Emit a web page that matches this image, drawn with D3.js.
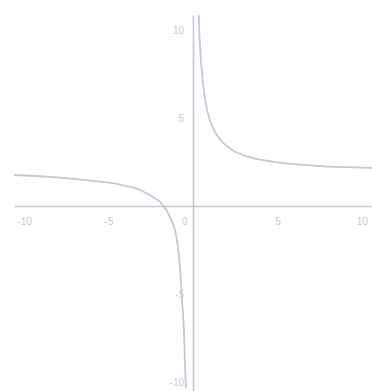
<!DOCTYPE html>
<html>
<head>
<meta charset="utf-8">
<script src="https://cdn.jsdelivr.net/npm/d3@7/dist/d3.min.js"></script>
<style>
  html, body { margin: 0; padding: 0; background: #ffffff; }
  svg { display: block; }
</style>
</head>
<body>
<script>
// Right-hand branch (x > 0), read point by point
const rightX = [0.33, 0.36, 0.40, 0.45, 0.50, 0.60, 0.70, 0.85, 1.0, 1.2, 1.5, 2.0, 2.5, 3.0, 4.0, 5.0, 6.0, 7.5, 9.0, 10.6];
const rightY = [10.97, 10.2, 9.4, 8.5, 7.9, 6.9, 6.2, 5.4, 4.9, 4.4, 3.9, 3.4, 3.08, 2.88, 2.63, 2.48, 2.38, 2.27, 2.21, 2.16];

// Left-hand branch (x < 0)
const leftX = [-10.6, -8.47, -6.51, -4.50, -3.14, -2.37, -1.78, -1.36, -0.95, -0.77, -0.65, -0.53, -0.47, -0.41];
const leftY = [1.76, 1.65, 1.48, 1.25, 0.91, 0.51, 0.06, -0.63, -1.93, -3.47, -5.34, -7.22, -9.15, -10.34];

const xTicks = [-10, -5, 0, 5, 10];
const yTicks = [10, 5, -5, -10];

const W = 372, H = 391;
const ink = "#c4c8d4";

const svg = d3.select("body").append("svg")
  .attr("width", W).attr("height", H);

const x = d3.scaleLinear().domain([-10.6, 10.6]).range([14, 372]);
const y = d3.scaleLinear().domain([-10.51, 10.85]).range([391, 15]);

svg.append("defs").append("clipPath").attr("id", "plot")
  .append("rect").attr("x", 14).attr("y", 15).attr("width", 358).attr("height", 376);

// Axes through the origin
const xAxis = svg.append("g")
  .attr("transform", `translate(0,${y(0)})`)
  .call(d3.axisBottom(x).tickValues(xTicks).tickSize(0).tickSizeOuter(0).tickPadding(12)
    .tickFormat(d => d));
const yAxis = svg.append("g")
  .attr("transform", `translate(${x(0)},0)`)
  .call(d3.axisLeft(y).tickValues(yTicks).tickSize(0).tickSizeOuter(0).tickPadding(9)
    .tickFormat(d => d));

[xAxis, yAxis].forEach(g => {
  g.select(".domain").attr("stroke", ink).attr("stroke-width", 1.6);
  g.selectAll("text")
    .attr("fill", "#c6cad4")
    .style("font-family", "'Liberation Sans', Arial, sans-serif")
    .style("font-size", "10px");
});
// origin label sits to the left of the vertical axis
xAxis.selectAll(".tick").filter(d => d === 0).select("text").attr("dx", -9);

const line = d3.line()
  .x(d => x(d[0]))
  .y(d => y(d[1]))
  .curve(d3.curveMonotoneX);

const plot = svg.append("g").attr("clip-path", "url(#plot)");
[[leftX, leftY], [rightX, rightY]].forEach(([xs, ys]) => {
  plot.append("path")
    .datum(xs.map((v, i) => [v, ys[i]]))
    .attr("fill", "none")
    .attr("stroke", ink)
    .attr("stroke-width", 1.8)
    .attr("d", line);
});
</script>
</body>
</html>
